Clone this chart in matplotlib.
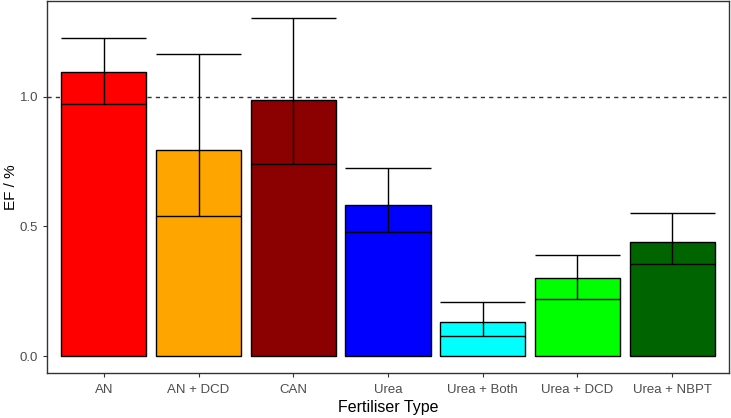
import matplotlib.pyplot as plt
import numpy as np

plt.rcParams['font.family'] = ['Liberation Sans', 'DejaVu Sans']

# Daten
duenger = ['AN', 'AN + DCD', 'CAN', 'Urea', 'Urea + Both', 'Urea + DCD', 'Urea + NBPT']
ef_mittel = [1.095, 0.794, 0.986, 0.582, 0.130, 0.300, 0.441]
ef_unten = [0.972, 0.542, 0.742, 0.480, 0.077, 0.221, 0.354]
ef_oben = [1.226, 1.165, 1.304, 0.724, 0.209, 0.391, 0.553]
farben = ['#FF0000', '#FFA500', '#8B0000', '#0000FF', '#00FFFF', '#00FF00', '#006400']

x = np.arange(1, len(duenger) + 1)
breite = 0.9

fig = plt.figure(figsize=(7.31, 4.18), dpi=100)
ax = fig.add_axes([0.0643, 0.1077, 0.933, 0.89])

# Balken
ax.bar(x, ef_mittel, width=breite, color=farben, edgecolor='black', linewidth=1.0, zorder=2)

# Fehlerbalken (Kappen so breit wie die Balken)
ax.vlines(x, ef_unten, ef_oben, color='black', linewidth=1.0, zorder=3)
ax.hlines(ef_unten, x - breite / 2, x + breite / 2, color='black', linewidth=1.0, zorder=3)
ax.hlines(ef_oben, x - breite / 2, x + breite / 2, color='black', linewidth=1.0, zorder=3)

# Referenzlinie bei 1 %
ax.axhline(1.0, color='#333333', linestyle=(0, (3, 3)), linewidth=1.0, zorder=1)

# Achsen formatieren
ax.set_xlim(0.4, 7.6)
spanne = max(ef_oben)
ax.set_ylim(-0.05 * spanne, spanne * 1.05)
ax.set_xticks(x)
ax.set_xticklabels(duenger)
ax.set_yticks([0.0, 0.5, 1.0])
ax.set_yticklabels(['0.0', '0.5', '1.0'])
ax.tick_params(axis='both', colors='#333333', labelcolor='#4D4D4D', labelsize=9.5, length=3, width=0.8)
ax.tick_params(axis='x', pad=5)
ax.set_xlabel('Fertiliser Type', fontsize=11.5, labelpad=3)
ax.set_ylabel('EF / %', fontsize=11)
ax.yaxis.set_label_coords(-0.043, 0.5)
for s in ax.spines.values():
    s.set_color('#333333')
    s.set_linewidth(1.0)

fig.savefig('out.png', dpi=100)
